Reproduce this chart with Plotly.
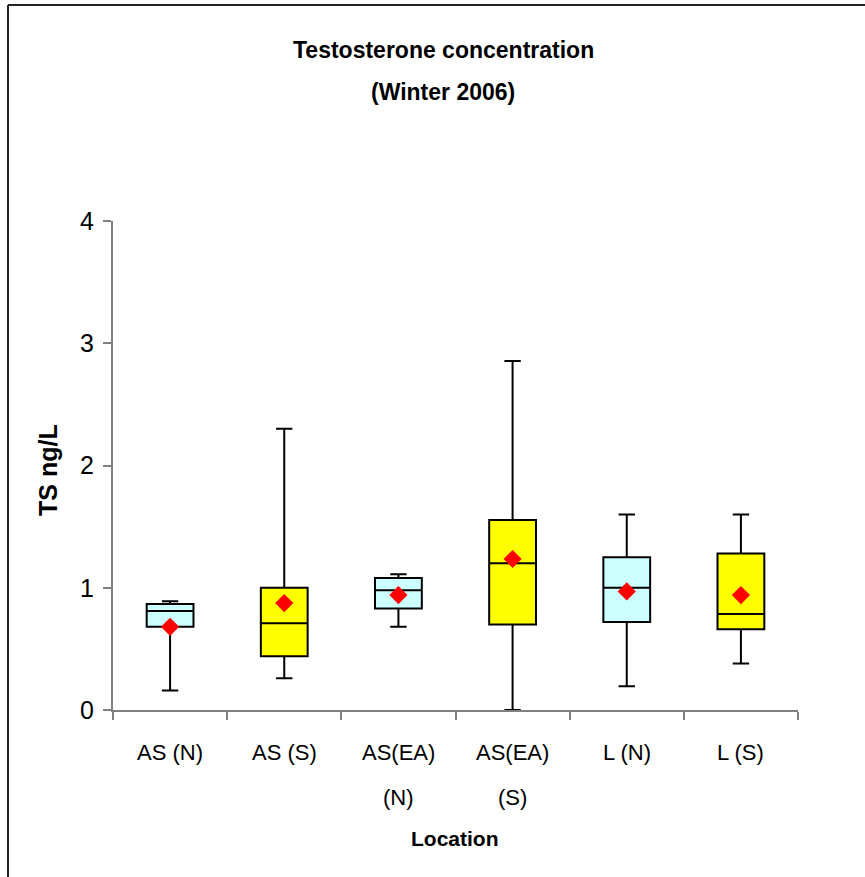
import plotly.graph_objects as go

categories = ["AS (N)", "AS (S)", "AS(EA) (N)", "AS(EA) (S)", "L (N)", "L (S)"]
tick_line1 = ["AS (N)", "AS (S)", "AS(EA)", "AS(EA)", "L (N)", "L (S)"]
tick_line2 = ["", "", "(N)", "(S)", "", ""]
lower = [0.16, 0.26, 0.68, 0.00, 0.195, 0.38]
q1 = [0.68, 0.44, 0.83, 0.70, 0.72, 0.66]
median = [0.81, 0.71, 0.98, 1.20, 1.00, 0.785]
q3 = [0.867, 1.00, 1.08, 1.555, 1.25, 1.28]
upper = [0.89, 2.30, 1.11, 2.855, 1.60, 1.60]
means = [0.68, 0.875, 0.94, 1.235, 0.97, 0.94]
fills = ["#CCFFFF", "#FFFF00", "#CCFFFF", "#FFFF00", "#CCFFFF", "#FFFF00"]

FONT = "Liberation Sans, Arial, sans-serif"

fig = go.Figure()
for i, c in enumerate(categories):
    fig.add_trace(go.Box(
        x=[c], q1=[q1[i]], median=[median[i]], q3=[q3[i]],
        lowerfence=[lower[i]], upperfence=[upper[i]],
        fillcolor=fills[i], line=dict(color="black", width=2),
        width=0.41, whiskerwidth=0.35, boxpoints=False, showlegend=False,
        hoverinfo="skip",
    ))
fig.add_trace(go.Scatter(
    x=categories, y=means, mode="markers",
    marker=dict(symbol="diamond", color="red", size=14, line=dict(width=0)),
    showlegend=False,
))

L, R, T, B = 113, 67, 221, 167
W, H = 865, 877
pw, ph = W - L - R, H - T - B

def px_x(p):
    return (p - L) / pw

def px_y(p):
    return (H - B - p) / ph

fig.update_layout(
    width=W, height=H,
    margin=dict(l=L, r=R, t=T, b=B),
    paper_bgcolor="white", plot_bgcolor="white",
    font=dict(family=FONT, size=22, color="black"),
    xaxis=dict(
        type="category", categoryorder="array", categoryarray=categories,
        showticklabels=False, ticks="outside", tickson="boundaries",
        ticklen=8, tickcolor="#808080", tickwidth=1.5,
        showline=True, linecolor="#808080", linewidth=2,
        showgrid=False, zeroline=False, range=[-0.5, 5.5],
    ),
    yaxis=dict(
        range=[0, 4], tickvals=[0, 1, 2, 3, 4], ticks="outside", ticklen=8,
        tickcolor="#808080", tickwidth=1.5, showline=True, linecolor="#808080",
        linewidth=2, showgrid=False, zeroline=False,
        tickfont=dict(size=25, family=FONT), ticklabelstandoff=4,
    ),
)

annotations = []
for i, c in enumerate(categories):
    annotations.append(dict(x=c, xref="x", y=px_y(752), yref="paper", text=tick_line1[i],
                            showarrow=False, font=dict(size=22, family=FONT), yanchor="middle"))
    if tick_line2[i]:
        annotations.append(dict(x=c, xref="x", y=px_y(797), yref="paper", text=tick_line2[i],
                                showarrow=False, font=dict(size=22, family=FONT), yanchor="middle"))
annotations += [
    dict(x=px_x(443), y=px_y(50), xref="paper", yref="paper", text="<b>Testosterone concentration</b>",
         showarrow=False, font=dict(size=23, family=FONT), yanchor="middle"),
    dict(x=px_x(443), y=px_y(92), xref="paper", yref="paper", text="<b>(Winter 2006)</b>",
         showarrow=False, font=dict(size=23, family=FONT), yanchor="middle"),
    dict(x=px_x(455), y=px_y(838), xref="paper", yref="paper", text="<b>Location</b>",
         showarrow=False, font=dict(size=21, family=FONT), yanchor="middle"),
    dict(x=px_x(48), y=px_y(470), xref="paper", yref="paper", text="<b>TS ng/L</b>",
         showarrow=False, font=dict(size=25, family=FONT), textangle=-90,
         xanchor="center", yanchor="middle"),
]
fig.update_layout(annotations=annotations)

fig.add_shape(type="line", xref="paper", yref="paper", x0=px_x(8), x1=px_x(8),
              y0=px_y(5), y1=px_y(H + 5), line=dict(color="#222222", width=2))
fig.add_shape(type="line", xref="paper", yref="paper", x0=px_x(8), x1=px_x(W + 5),
              y0=px_y(5), y1=px_y(5), line=dict(color="#222222", width=2))

fig.write_html("out.html", config={"displayModeBar": False},
               post_script="document.body.style.margin='0px';document.body.style.overflow='hidden';")
